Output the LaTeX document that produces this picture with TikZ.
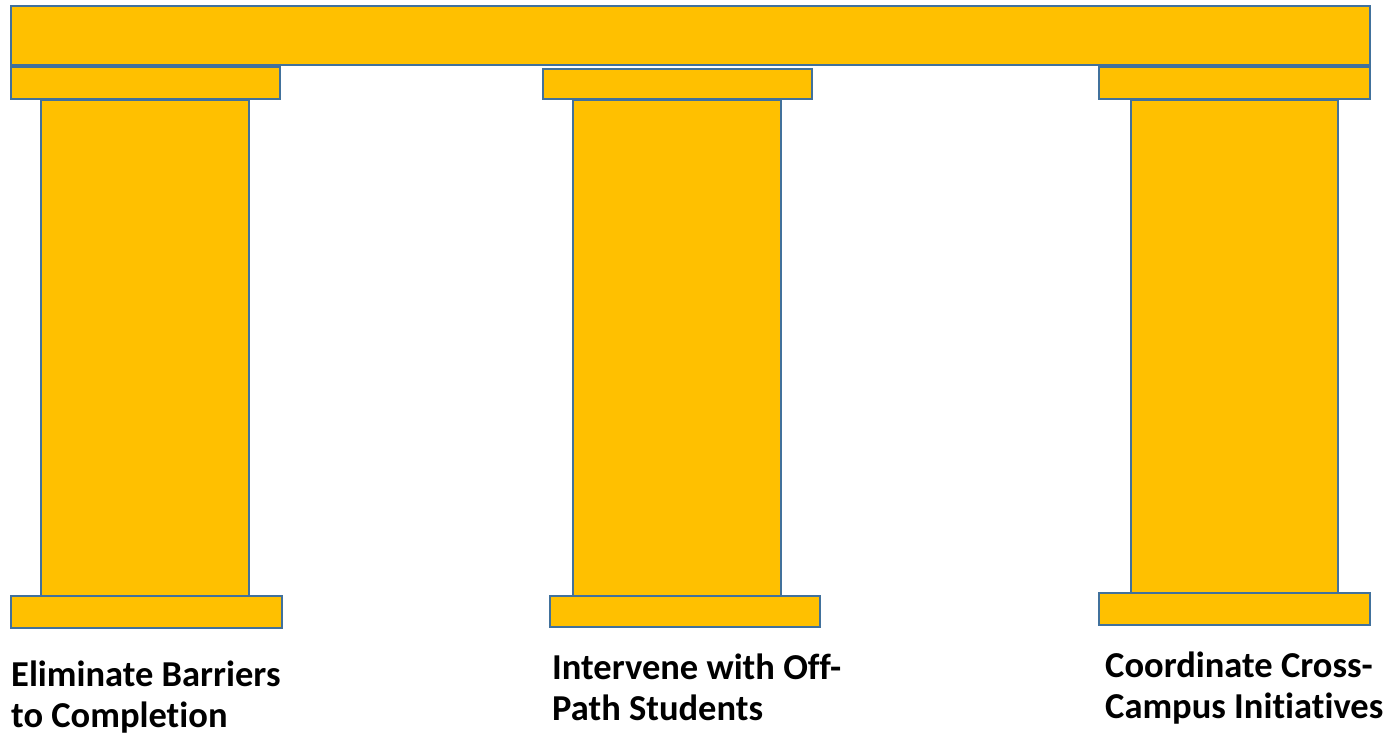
\documentclass[tikz,border=0pt]{standalone}
\usepackage{fontspec}
\setmainfont{Carlito}[RawFeature={-liga;-dlig;-clig}]
\definecolor{gold}{HTML}{FFC000}
\definecolor{edge}{HTML}{41719C}
\begin{document}
\begin{tikzpicture}[x=1pt,y=-1pt,
  part/.style={fill=gold,draw=edge,line width=1.2pt},
  lbl/.style={anchor=base west,inner sep=0pt,align=left,font=\bfseries\fontsize{36.5}{41}\selectfont}]
\useasboundingbox (0,0) rectangle (1388,736);
% beam
\path[part] (11,6) rectangle (1370,65);
% left pillar
\path[part] (11,67) rectangle (280,99);
\path[part] (41,100) rectangle (249,596);
\path[part] (11,596) rectangle (282,628);
% middle pillar
\path[part] (543,69) rectangle (812,99);
\path[part] (573,100) rectangle (781,596);
\path[part] (550,596) rectangle (820,627);
% right pillar
\path[part] (1099,67) rectangle (1370,99);
\path[part] (1131,100) rectangle (1338,593);
\path[part] (1099,593) rectangle (1370,625);
% labels (anchor at baseline of the last line)
\node[lbl] (l1) at (11,727) {Eliminate Barriers\\to Completion};
\node[lbl] (l2) at (552,720) {Intervene with Off-\\Path Students};
\node[lbl] (l3) at (1105,718) {Coordinate Cross-\\Campus Initiatives};
\end{tikzpicture}
\end{document}
